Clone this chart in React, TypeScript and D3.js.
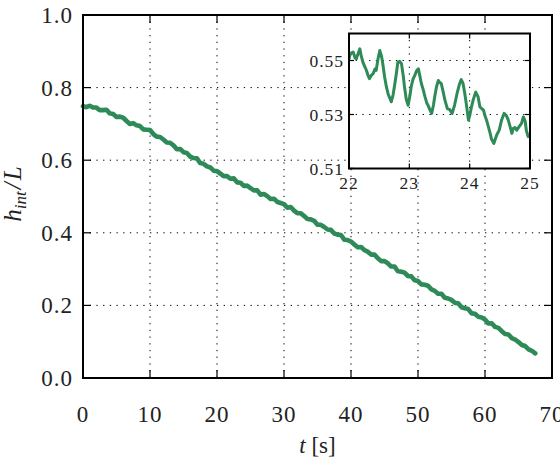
import * as d3 from "d3";

// axis ticks
const xTicks = [0, 10, 20, 30, 40, 50, 60, 70];
const yTicks = [0, 0.2, 0.4, 0.6, 0.8, 1.0];
const insetXTicks = [22, 23, 24, 25];
const insetYTicks = [0.51, 0.53, 0.55];

// h_int / L sampled every 0.5 s from t = 0
const sampleDt = 0.5;
const heightSeries = [
  0.749, 0.746, 0.75, 0.745, 0.745, 0.738, 0.738, 0.739, 0.729, 0.727,
  0.719, 0.72, 0.717, 0.708, 0.7, 0.702, 0.696, 0.694, 0.685, 0.684,
  0.683, 0.672, 0.665, 0.664, 0.657, 0.649, 0.648, 0.641, 0.63, 0.631,
  0.622, 0.62, 0.61, 0.606, 0.605, 0.592, 0.59, 0.583, 0.58, 0.571,
  0.57, 0.563, 0.556, 0.556, 0.549, 0.55, 0.539, 0.538, 0.529, 0.53,
  0.523, 0.517, 0.517, 0.505, 0.507, 0.501, 0.493, 0.494, 0.485, 0.482,
  0.479, 0.469, 0.471, 0.461, 0.454, 0.454, 0.446, 0.438, 0.437, 0.433,
  0.422, 0.422, 0.416, 0.409, 0.408, 0.398, 0.395, 0.394, 0.381, 0.38,
  0.376, 0.368, 0.36, 0.361, 0.352, 0.348, 0.34, 0.34, 0.33, 0.322,
  0.322, 0.316, 0.307, 0.307, 0.294, 0.293, 0.29, 0.281, 0.28, 0.269,
  0.267, 0.258, 0.257, 0.254, 0.244, 0.24, 0.232, 0.232, 0.221, 0.219,
  0.215, 0.207, 0.206, 0.195, 0.192, 0.19, 0.178, 0.177, 0.169, 0.167,
  0.161, 0.15, 0.151, 0.141, 0.138, 0.129, 0.121, 0.12, 0.11, 0.106,
  0.099, 0.091, 0.088, 0.079, 0.075, 0.068,
];

// zoomed window 22-25 s
const insetTime = [
  22.0, 22.01, 22.04, 22.07, 22.1, 22.12, 22.15, 22.18, 22.2, 22.23, 22.26, 22.29,
  22.31, 22.34, 22.37, 22.4, 22.43, 22.45, 22.48, 22.51, 22.54, 22.56, 22.59,
  22.62, 22.65, 22.68, 22.7, 22.73, 22.76, 22.79, 22.81, 22.84, 22.87, 22.9,
  22.92, 22.95, 22.98, 23.01, 23.03, 23.06, 23.09, 23.12, 23.15, 23.17, 23.2,
  23.23, 23.26, 23.29, 23.31, 23.34, 23.37, 23.4, 23.42, 23.45, 23.48, 23.5,
  23.53, 23.56, 23.59, 23.63, 23.67, 23.71, 23.75, 23.79, 23.83, 23.86, 23.89,
  23.92, 23.95, 23.98, 24.0, 24.03, 24.06, 24.1, 24.14, 24.17, 24.2, 24.23,
  24.25, 24.28, 24.31, 24.34, 24.36, 24.4, 24.45, 24.49, 24.53, 24.57, 24.61,
  24.64, 24.67, 24.7, 24.72, 24.75, 24.78, 24.82, 24.86, 24.89, 24.92, 24.94,
  24.97, 25.0,
];
const insetHeight = [
  0.5505, 0.5518, 0.5528, 0.5531, 0.551, 0.5506, 0.5525, 0.5543, 0.552, 0.5494,
  0.5478, 0.5463, 0.5448, 0.5433, 0.5445, 0.5451, 0.5468, 0.5463, 0.5505, 0.5537,
  0.5515, 0.5488, 0.544, 0.5402, 0.5375, 0.5359, 0.5347, 0.5372, 0.5414, 0.546,
  0.5494, 0.5497, 0.5488, 0.5442, 0.5402, 0.5355, 0.5334, 0.537, 0.5402, 0.543,
  0.5445, 0.5462, 0.5469, 0.5448, 0.5414, 0.5392, 0.5365, 0.5342, 0.5334, 0.5318,
  0.5304, 0.5335, 0.5365, 0.5402, 0.5426, 0.542, 0.5414, 0.5385, 0.5353, 0.5322,
  0.5318, 0.5304, 0.5335, 0.5377, 0.5412, 0.5429, 0.5415, 0.5377, 0.533, 0.5279,
  0.5295, 0.5328, 0.5355, 0.5383, 0.5365, 0.5328, 0.5322, 0.5316, 0.5298, 0.5279,
  0.5255, 0.523, 0.521, 0.5193, 0.5225, 0.5242, 0.528, 0.5304, 0.5295, 0.5279,
  0.5255, 0.523, 0.5248, 0.5252, 0.5242, 0.5255, 0.5267, 0.5291, 0.5275, 0.524,
  0.5218, 0.5225,
];

const FONT = "'Liberation Serif', 'DejaVu Serif', 'Noto Serif', 'Times New Roman', Times, serif";
const GREEN = "#2e8b57";

export default function App() {
  const width = 560;
  const height = 460;

  const x = d3.scaleLinear().domain([0, 70]).range([83, 552]);
  const y = d3.scaleLinear().domain([0, 1]).range([378, 15]);
  const ix = d3.scaleLinear().domain([22, 25]).range([349, 530]);
  const iy = d3.scaleLinear().domain([0.51, 0.56]).range([168.5, 33.5]);

  const mainLine = d3
    .line<number>()
    .x((d, i) => x(i * sampleDt))
    .y((d) => y(d));
  const insetLine = d3
    .line<number>()
    .x((d, i) => ix(insetTime[i]))
    .y((d) => iy(d));

  const [x0, x1] = x.range();
  const [y0, y1] = y.range();
  const [ix0, ix1] = ix.range();
  const [iy0, iy1] = iy.range();
  const dots = "1.3,5.4";
  const txt = { fontFamily: FONT };

  return (
    <svg
      width={width}
      height={height}
      style={{ position: "absolute", left: 0, top: 0, background: "#fff" }}
    >
      {/* main grid */}
      <g stroke="#000" strokeWidth={1} strokeDasharray={dots}>
        {xTicks.slice(1, -1).map((t) => (
          <line key={"gx" + t} x1={x(t)} x2={x(t)} y1={y0} y2={y1} />
        ))}
        {yTicks.slice(1, -1).map((t) => (
          <line key={"gy" + t} x1={x0} x2={x1} y1={y(t)} y2={y(t)} />
        ))}
      </g>

      <path
        d={mainLine(heightSeries) ?? ""}
        fill="none"
        stroke={GREEN}
        strokeWidth={4.6}
        strokeLinejoin="round"
        strokeLinecap="round"
      />

      {/* main ticks, inward on all sides */}
      <g stroke="#000" strokeWidth={1.2}>
        {xTicks.map((t) => (
          <g key={"tx" + t}>
            <line x1={x(t)} x2={x(t)} y1={y0} y2={y0 - 8} />
            <line x1={x(t)} x2={x(t)} y1={y1} y2={y1 + 8} />
          </g>
        ))}
        {yTicks.map((t) => (
          <g key={"ty" + t}>
            <line x1={x0} x2={x0 + 8} y1={y(t)} y2={y(t)} />
            <line x1={x1} x2={x1 - 8} y1={y(t)} y2={y(t)} />
          </g>
        ))}
      </g>
      <rect x={x0} y={y1} width={x1 - x0} height={y0 - y1} fill="none" stroke="#000" strokeWidth={2} />

      {/* tick labels */}
      <g fontSize={23} fill="#222" letterSpacing={1}>
        {xTicks.map((t) => (
          <text key={"lx" + t} style={txt} x={x(t)} y={422} textAnchor="middle">
            {t}
          </text>
        ))}
        {yTicks.map((t) => (
          <text key={"ly" + t} style={txt} x={73} y={y(t) + 8} textAnchor="end">
            {t.toFixed(1)}
          </text>
        ))}
      </g>

      {/* axis labels */}
      <text style={txt} x={(x0 + x1) / 2} y={453} textAnchor="middle" fontSize={23} fill="#222">
        <tspan fontStyle="italic">t</tspan> [s]
      </text>
      <text
        style={txt}
        transform="translate(21,194) rotate(-90)"
        textAnchor="middle"
        fontSize={25}
        fill="#222"
        fontStyle="italic"
      >
        h<tspan fontSize={17} dy={5}>int</tspan>
        <tspan dy={-5} dx={2}>/</tspan>
        <tspan dx={2}>L</tspan>
      </text>

      {/* inset */}
      <defs>
        <clipPath id="insetClip">
          <rect x={ix0} y={iy1} width={ix1 - ix0} height={iy0 - iy1} />
        </clipPath>
      </defs>
      <rect x={ix0} y={iy1} width={ix1 - ix0} height={iy0 - iy1} fill="#fff" />
      <g stroke="#000" strokeWidth={1} strokeDasharray={dots}>
        {insetXTicks.slice(1, -1).map((t) => (
          <line key={"igx" + t} x1={ix(t)} x2={ix(t)} y1={iy0} y2={iy1} />
        ))}
        {insetYTicks.slice(1).map((t) => (
          <line key={"igy" + t} x1={ix0} x2={ix1} y1={iy(t)} y2={iy(t)} />
        ))}
      </g>
      <path
        d={insetLine(insetHeight) ?? ""}
        fill="none"
        stroke={GREEN}
        strokeWidth={3}
        strokeLinejoin="round"
        clipPath="url(#insetClip)"
      />
      <g stroke="#000" strokeWidth={1.2}>
        {insetXTicks.map((t) => (
          <g key={"itx" + t}>
            <line x1={ix(t)} x2={ix(t)} y1={iy0} y2={iy0 - 5} />
            <line x1={ix(t)} x2={ix(t)} y1={iy1} y2={iy1 + 5} />
          </g>
        ))}
        {insetYTicks.map((t) => (
          <g key={"ity" + t}>
            <line x1={ix0} x2={ix0 + 5} y1={iy(t)} y2={iy(t)} />
            <line x1={ix1} x2={ix1 - 5} y1={iy(t)} y2={iy(t)} />
          </g>
        ))}
      </g>
      <rect x={ix0} y={iy1} width={ix1 - ix0} height={iy0 - iy1} fill="none" stroke="#000" strokeWidth={2} />
      <g fontSize={17.5} fill="#222" letterSpacing={1}>
        {insetXTicks.map((t) => (
          <text key={"ilx" + t} style={txt} x={ix(t)} y={189} textAnchor="middle">
            {t}
          </text>
        ))}
        {insetYTicks.map((t) => (
          <text key={"ily" + t} style={txt} x={344} y={iy(t) + 6} textAnchor="end">
            {t.toFixed(2)}
          </text>
        ))}
      </g>
    </svg>
  );
}
